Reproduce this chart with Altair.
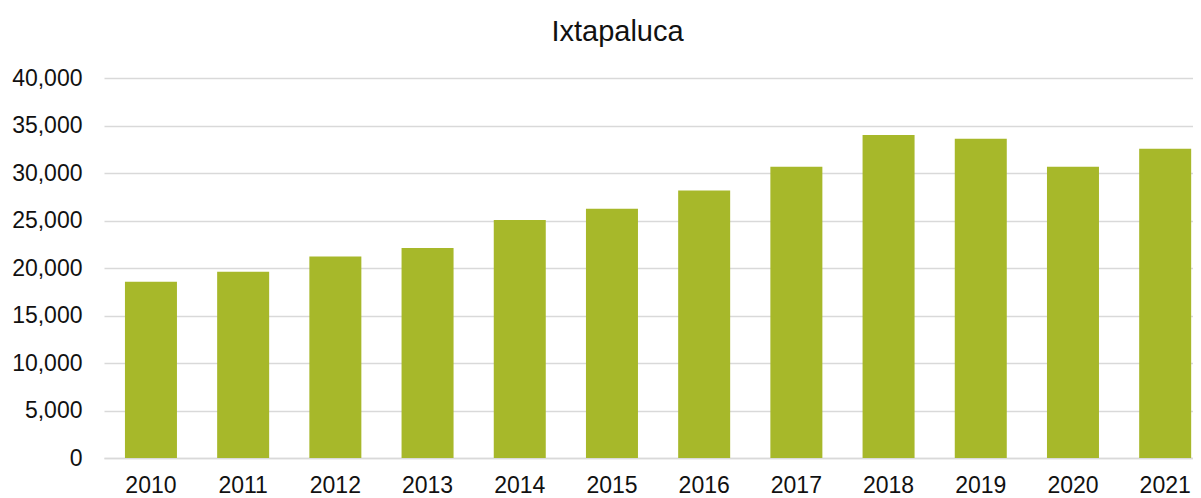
import altair as alt
import pandas as pd

years = ["2010", "2011", "2012", "2013", "2014", "2015", "2016", "2017", "2018", "2019", "2020", "2021"]
values = [18550, 19600, 21200, 22100, 25050, 26250, 28150, 30650, 34000, 33600, 30650, 32550]

df = pd.DataFrame({"year": years, "value": values})

font = "Liberation Sans"

chart = alt.Chart(df).mark_bar(color="#A7B82A").encode(
    x=alt.X("year:N", sort=years, title=None,
            scale=alt.Scale(paddingInner=0.436, paddingOuter=0.1235, align=0.92),
            axis=alt.Axis(labelAngle=0, labelFontSize=23, labelFont=font, labelColor="#111111",
                          ticks=False, domain=True, domainColor="#D9D9D9", domainWidth=1.5,
                          labelPadding=16, grid=False)),
    y=alt.Y("value:Q", title=None,
            scale=alt.Scale(domain=[0, 40000], nice=False),
            axis=alt.Axis(values=[0, 5000, 10000, 15000, 20000, 25000, 30000, 35000, 40000],
                          format=",.0f", labelFontSize=23, labelFont=font, labelColor="#111111",
                          ticks=False, domain=False, grid=True, gridColor="#D9D9D9",
                          gridWidth=1.5, labelPadding=22)),
).properties(
    width=1089,
    height=380,
    title=alt.TitleParams("Ixtapaluca", fontSize=29, font=font, fontWeight="normal",
                          color="#111111", anchor="middle", frame="group", dx=-31, offset=20),
    autosize=alt.AutoSizeParams(type="none"),
    padding={"left": 96, "top": 70, "right": 0, "bottom": 38},
).configure_view(stroke=None)

chart.save("out.html", embed_options={"renderer": "svg", "actions": False})
